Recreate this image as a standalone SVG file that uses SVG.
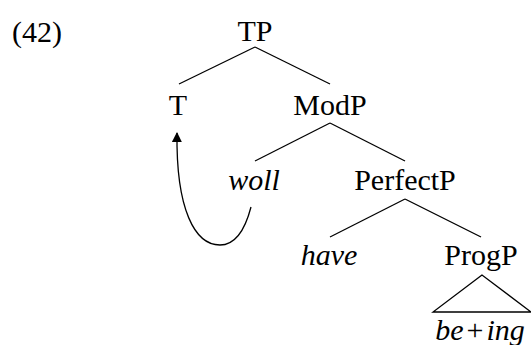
<svg xmlns="http://www.w3.org/2000/svg" width="531" height="345" viewBox="0 0 531 345">
<style>
.e line,.e path,.e polygon{stroke:#000;stroke-width:1.3;fill:none}
</style>
<defs>
<marker id="ah" viewBox="0 0 10 10" refX="9" refY="5" markerWidth="10" markerHeight="10" markerUnits="userSpaceOnUse" orient="auto">
<path d="M0,0 L10,5 L0,10 Z" fill="#000"/>
</marker>
</defs>
<rect width="531" height="345" fill="#fff"/>
<g font-family="Liberation Serif" font-size="30" text-anchor="middle" fill="#000">
<text x="37" y="42">(42)</text>
<g id="TP"><text x="255" y="41">TP</text></g>
<g id="T"><text x="178" y="115">T</text></g>
<g id="ModP"><text x="330" y="115">ModP</text></g>
<g id="woll"><text font-style="italic" x="254" y="190">woll</text></g>
<g id="PerfectP"><text x="405" y="190">PerfectP</text></g>
<g id="have"><text font-style="italic" x="329" y="265">have</text></g>
<g id="ProgP"><text x="481" y="265">ProgP</text></g>
<g id="being"><text x="480" y="340"><tspan font-style="italic">be</tspan><tspan dx="3">+</tspan><tspan font-style="italic" dx="3">ing</tspan></text></g>
</g>
<g id="connectors" class="e">
<line x1="255" y1="47" x2="179" y2="84"/>
<line x1="255" y1="47" x2="330" y2="84"/>
<line x1="330" y1="123" x2="255" y2="161"/>
<line x1="330" y1="123" x2="405" y2="161"/>
<line x1="405" y1="199" x2="330" y2="237"/>
<line x1="405" y1="199" x2="481" y2="237"/>
<polygon points="482,275 433,312 531,312"/>
<path d="M251,207 C245,230 235,245 220,245 C195,245 176,210 177,133" marker-end="url(#ah)"/>
</g>
</svg>
